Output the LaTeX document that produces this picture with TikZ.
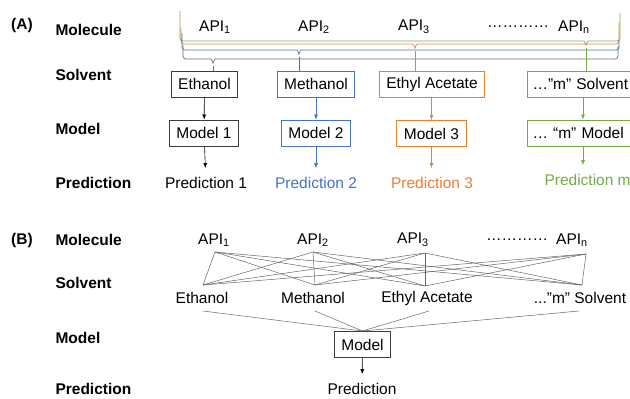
\documentclass[tikz,border=0pt]{standalone}
\usepackage{fontspec}
\setmainfont{Liberation Sans}
\usetikzlibrary{arrows.meta}
\definecolor{apiblue}{RGB}{68,114,196}
\definecolor{apiorange}{RGB}{237,125,49}
\definecolor{apigreen}{RGB}{112,173,71}
\definecolor{apigray}{RGB}{110,110,110}
\definecolor{boxdark}{RGB}{60,60,60}

\begin{document}
\begin{tikzpicture}[x=1pt, y=1pt, font=\fontsize{15.5}{18}\selectfont]
    % Define styles
    \tikzset{
        rowtitle/.style={font=\fontsize{15.5}{18}\selectfont\bfseries, anchor=west},
        stepbox/.style={draw, line width=1pt, minimum height=26pt, inner xsep=7pt, inner ysep=0pt},
        predtext/.style={inner ysep=9pt},
        bracepath/.style={line width=0.7pt, rounded corners=3pt},
        flow/.style={-{Latex[length=5pt,width=4pt]}, line width=0.6pt},
        web/.style={draw=black!60, line width=0.5pt}
    }
    \useasboundingbox (0,0) rectangle (630,-399);

    % Part (A): one model per solvent
    \begin{scope}
        \node[font=\fontsize{15.5}{18}\selectfont\bfseries] (tagA) at (22,-25) {(A)};
        \node[rowtitle] (molA) at (52,-30) {Molecule};
        \node[rowtitle] (solA) at (52,-75) {Solvent};
        \node[rowtitle] (modA) at (52,-129) {Model};
        \node[rowtitle] (preA) at (52,-183) {Prediction};

        \node (apiA1) at (215,-27) {API\textsubscript{1}};
        \node (apiA2) at (314,-27) {API\textsubscript{2}};
        \node (apiA3) at (414,-27) {API\textsubscript{3}};
        \node (dotsA) at (518,-27) {…………};
        \node (apiAn) at (574,-27) {API\textsubscript{n}};

        % braces from all molecules to each solvent
        \draw[bracepath, apigreen] (180,-11) |- (581,-41) to[out=0,in=90] (586,-48) to[out=90,in=180] (591,-41) -| (620,-13);
        \draw[bracepath, apiorange] (181,-28) |- (410,-44) to[out=0,in=90] (415,-51) to[out=90,in=180] (420,-44) -| (619,-23);
        \draw[bracepath, apiblue] (182,-33) |- (294,-50) to[out=0,in=90] (299,-57) to[out=90,in=180] (304,-50) -| (619,-40);
        \draw[bracepath, apigray] (183,-45) |- (208,-59) to[out=0,in=90] (213,-66) to[out=90,in=180] (218,-59) -| (618,-46);
        \coordinate (tipGray) at (213,-66);
        \coordinate (tipBlue) at (299,-57);
        \coordinate (tipOrange) at (415,-51);
        \coordinate (tipGreen) at (586,-48);

        \node[stepbox, draw=boxdark] (ethA) at (204.5,-84) {Ethanol};
        \node[stepbox, draw=apiblue] (metA) at (316,-84) {Methanol};
        \node[stepbox, draw=apiorange] (eacA) at (432,-84) {Ethyl Acetate};
        \node[stepbox, draw=apigreen, anchor=west, text width=110pt, align=left, inner xsep=5pt] (msoA) at (527,-84) {…"m" Solvent};

        \node[stepbox, draw=boxdark] (mo1A) at (204,-133) {Model 1};
        \node[stepbox, draw=apiblue] (mo2A) at (316,-133) {Model 2};
        \node[stepbox, draw=apiorange] (mo3A) at (431.5,-133.5) {Model 3};
        \node[stepbox, draw=apigreen, anchor=west, text width=110pt, align=left, inner xsep=5pt] (momA) at (527,-133) {… “m” Model};

        \node[predtext] (pr1A) at (206,-183) {Prediction 1};
        \node[predtext, text=apiblue] (pr2A) at (316,-183) {Prediction 2};
        \node[predtext, text=apiorange] (pr3A) at (432,-183) {Prediction 3};
        \node[predtext, text=apigreen, anchor=west] (prmA) at (541,-180) {Prediction m};

        \draw[apigray, line width=0.7pt] (tipGray) -- (tipGray |- ethA.north);
        \draw[apiblue, line width=0.7pt] (tipBlue) -- (tipBlue |- metA.north);
        \draw[apiorange, line width=0.7pt] (tipOrange) -- (tipOrange |- eacA.north);
        \draw[apigreen, line width=0.7pt] (tipGreen) -- (tipGreen |- msoA.north);

        \draw[flow] (ethA) -- (mo1A);
        \draw[flow] (mo1A) -- (pr1A);
        \draw[flow, apiblue] (metA) -- (mo2A);
        \draw[flow, apiblue] (mo2A) -- (pr2A);
        \draw[flow, apiorange] (eacA.south -| mo3A) -- (mo3A);
        \draw[flow, apiorange] (mo3A) -- (mo3A |- pr3A.north);
        \coordinate (colm) at (583,0);
        \draw[flow, apigreen] (colm |- msoA.south) -- (colm |- momA.north);
        \draw[flow, apigreen] (colm |- momA.south) -- (colm |- prmA.north);
    \end{scope}

    % Part (B): one model for all solvents
    \begin{scope}
        \node[font=\fontsize{15.5}{18}\selectfont\bfseries] (tagB) at (22,-240) {(B)};
        \node[rowtitle] (molB) at (52,-240) {Molecule};
        \node[rowtitle] (solB) at (52,-283) {Solvent};
        \node[rowtitle] (modB) at (52,-338) {Model};
        \node[rowtitle] (preB) at (52,-389) {Prediction};

        \node (apiB1) at (214,-240) {API\textsubscript{1}};
        \node (apiB2) at (313,-240) {API\textsubscript{2}};
        \node (apiB3) at (413,-240) {API\textsubscript{3}};
        \node (dotsB) at (517,-240) {…………};
        \node (apiBn) at (572,-240) {API\textsubscript{n}};

        \node (ethB) at (202,-298) {Ethanol};
        \node (metB) at (313,-298) {Methanol};
        \node (eacB) at (427,-298) {Ethyl Acetate};
        \node (msoB) at (580,-298) {..."m" Solvent};

        \node[stepbox, draw=boxdark] (mdlB) at (362.5,-344.5) {Model};
        \node[predtext] (prdB) at (362,-389) {Prediction};

        % every molecule paired with every solvent
        \coordinate (a1) at (215,-252);
        \coordinate (a2) at (313,-252);
        \coordinate (a3) at (425,-253);
        \coordinate (an) at (586,-254);
        \coordinate (s1) at (203,-285);
        \coordinate (s2) at (315,-285);
        \coordinate (s3) at (425,-286);
        \coordinate (sm) at (582,-285);
        \foreach \a in {a1,a2,a3,an}
            \foreach \s in {s1,s2,s3,sm}
                \draw[web] (\a) -- (\s);

        \coordinate (b1) at (203,-311);
        \coordinate (b2) at (315,-311);
        \coordinate (b3) at (429,-311);
        \coordinate (bm) at (579,-311);
        \foreach \b in {b1,b2,b3,bm}
            \draw[web] (\b) -- (mdlB.north);

        \draw[flow] (mdlB) -- (prdB);
    \end{scope}
\end{tikzpicture}
\end{document}
